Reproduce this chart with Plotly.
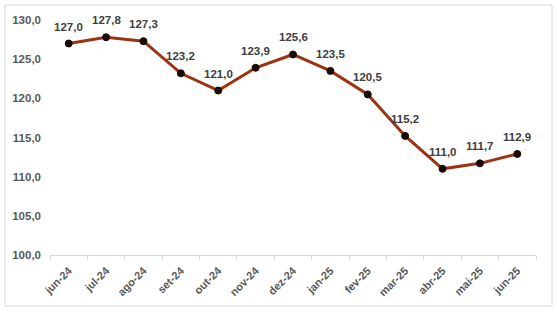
import plotly.graph_objects as go

months = ["jun-24", "jul-24", "ago-24", "set-24", "out-24", "nov-24", "dez-24",
          "jan-25", "fev-25", "mar-25", "abr-25", "mai-25", "jun-25"]
values = [127.0, 127.8, 127.3, 123.2, 121.0, 123.9, 125.6, 123.5, 120.5, 115.2, 111.0, 111.7, 112.9]
labels = [f"{v:.1f}".replace(".", ",") for v in values]

W, H = 557, 315
L, R, T, B = 50, 21, 20, 60

fig = go.Figure()
fig.add_trace(go.Scatter(
    x=months, y=values, mode="lines+markers",
    line=dict(color="#9B3412", width=3),
    marker=dict(size=7, color="#1a0a05", line=dict(color="#1a0a05", width=1)),
    cliponaxis=False, hoverinfo="skip"
))

for m, v, t in zip(months, values, labels):
    fig.add_annotation(x=m, y=v, xref="x", yref="y", text=t, showarrow=False,
                       yshift=17,
                       font=dict(family="Arial, Liberation Sans", size=11.5,
                                 color="#404040", weight="bold"))

pw = W - L - R
ph = H - T - B
def px2x(p): return (p - L) / pw
def py2y(p): return (H - B - p) / ph

fig.add_shape(type="rect", xref="paper", yref="paper",
              x0=px2x(5), x1=px2x(552), y0=py2y(306), y1=py2y(5),
              line=dict(color="#d9d9d9", width=1), layer="below")

fig.update_layout(
    width=W, height=H, margin=dict(l=L, r=R, t=T, b=B),
    paper_bgcolor="white", plot_bgcolor="white",
    showlegend=False, separators=",.",
    font=dict(family="Arial, Liberation Sans", color="#595959"),
    xaxis=dict(type="category", range=[-0.5, 12.5], tickson="boundaries",
               ticks="outside", ticklen=4, tickcolor="#d9d9d9",
               showline=True, linecolor="#d9d9d9", linewidth=1,
               showgrid=False, tickangle=-45, ticklabelstandoff=4,
               tickfont=dict(size=11, color="#595959", weight="bold")),
    yaxis=dict(range=[100, 130], dtick=5, tickformat=".1f",
               showgrid=False, zeroline=False, showline=False,
               ticks="", ticklabelstandoff=8,
               tickfont=dict(size=11.5, color="#595959", weight="bold")),
)

fig.write_html("out.html")
